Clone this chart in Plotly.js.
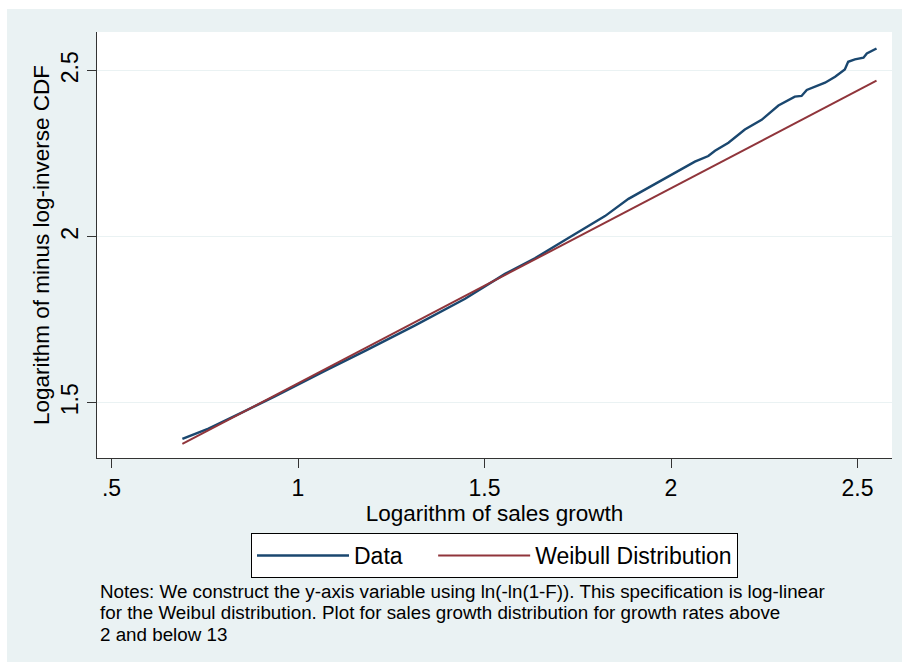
<!DOCTYPE html>
<html>
<head>
<meta charset="utf-8">
<script src="https://cdn.plot.ly/plotly-3.0.1.min.js"></script>
<style>
  html, body { margin: 0; padding: 0; background: #ffffff; }
  #chart { position: absolute; left: 7px; top: 9px; width: 895px; height: 653px; }
</style>
</head>
<body>
<div id="chart"></div>
<script>
// Empirical curve: log sales growth vs ln(-ln(1-F))
const dataX = [0.690, 0.760, 0.849, 0.938, 1.072, 1.180, 1.314, 1.448, 1.555, 1.635,
               1.716, 1.823, 1.886, 1.975, 2.064, 2.100, 2.118, 2.154, 2.198, 2.243,
               2.288, 2.332, 2.350, 2.364, 2.386, 2.413, 2.440, 2.466, 2.475, 2.493,
               2.516, 2.525, 2.551];
const dataY = [1.391, 1.422, 1.470, 1.519, 1.596, 1.656, 1.733, 1.813, 1.888, 1.935,
               1.990, 2.062, 2.114, 2.171, 2.226, 2.243, 2.259, 2.283, 2.323, 2.352,
               2.395, 2.422, 2.424, 2.442, 2.452, 2.464, 2.482, 2.504, 2.527, 2.534,
               2.539, 2.552, 2.567];

// Fitted Weibull reference line (endpoints)
const weibullX = [0.690, 2.551];
const weibullY = [1.376, 2.470];

// Axis ticks
const xTickVals = [0.5, 1, 1.5, 2, 2.5];
const xTickText = ['.5', '1', '1.5', '2', '2.5'];
const yTickVals = [1.5, 2, 2.5];
const yTickText = ['1.5', '2', '2.5'];

// Footnote lines
const noteLines = [
  'Notes: We construct the y-axis variable using ln(-ln(1-F)). This specification is log-linear',
  'for the Weibul distribution. Plot for sales growth distribution for growth rates above',
  '2 and below 13'
];

const FONT = 'Liberation Sans, Arial, sans-serif';
const BG = '#eaf2f3';
const NBSP = '\u00a0';

const traces = [
  {
    x: dataX, y: dataY, type: 'scatter', mode: 'lines', name: 'Data' + NBSP.repeat(4),
    line: { color: '#1a476f', width: 2.4 }
  },
  {
    x: weibullX, y: weibullY, type: 'scatter', mode: 'lines', name: 'Weibull Distribution',
    line: { color: '#90353b', width: 2 }
  }
];

// Footnote lines, one annotation per line at a fixed line gap
const plotTopPx = 32, plotBottomPx = 458;
const lineGap = 21.5;
const firstLineCentre = 591;
const noteAnnotations = noteLines.map((t, i) => ({
  xref: 'paper', yref: 'paper',
  x: 0.002,
  y: (plotBottomPx - (firstLineCentre + i * lineGap)) / (plotBottomPx - plotTopPx),
  xanchor: 'left', yanchor: 'middle', align: 'left',
  borderpad: 0,
  showarrow: false,
  font: { family: FONT, size: 18.8, color: '#000000' },
  text: t
}));

const layout = {
  width: 895, height: 653,
  paper_bgcolor: BG,
  plot_bgcolor: '#ffffff',
  margin: { l: 90, r: 10, t: 23, b: 204, pad: 0 },
  font: { family: FONT, color: '#000000', size: 22 },
  showlegend: true,
  legend: {
    orientation: 'h',
    x: 0.5, xanchor: 'center',
    y: -0.176, yanchor: 'top',
    bgcolor: '#ffffff',
    bordercolor: '#000000', borderwidth: 1,
    font: { family: FONT, size: 23, color: '#000000' },
    itemwidth: 92,
    traceorder: 'normal'
  },
  xaxis: {
    range: [0.4611, 2.5925],
    tickvals: xTickVals, ticktext: xTickText,
    ticks: 'outside', ticklen: 9, tickwidth: 1, tickcolor: '#333333',
    showline: true, linecolor: '#333333', linewidth: 1, mirror: false,
    showgrid: false, zeroline: false,
    tickfont: { family: FONT, size: 23, color: '#000000' },
    title: { text: 'Logarithm of sales growth', font: { family: FONT, size: 22.5, color: '#000000' }, standoff: 0 }
  },
  yaxis: {
    range: [1.3334, 2.6166],
    tickvals: yTickVals, ticktext: yTickText, tickangle: -90,
    ticks: 'outside', ticklen: 9, tickwidth: 1, tickcolor: '#333333',
    showline: true, linecolor: '#333333', linewidth: 1, mirror: false,
    showgrid: true, gridcolor: BG, gridwidth: 1.5, zeroline: false,
    tickfont: { family: FONT, size: 23, color: '#000000' },
    title: { text: 'Logarithm of minus log-inverse CDF', font: { family: FONT, size: 22.5, color: '#000000' }, standoff: 0 }
  },
  annotations: noteAnnotations
};

Plotly.newPlot('chart', traces, layout, { displayModeBar: false, staticPlot: true });
</script>
</body>
</html>
